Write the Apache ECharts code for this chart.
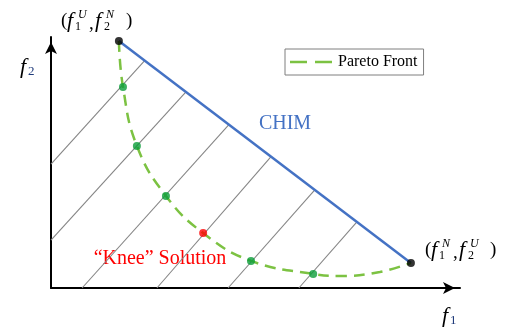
<!DOCTYPE html>
<html><head><meta charset="utf-8">
<script src="https://cdn.jsdelivr.net/npm/echarts@6/dist/echarts.min.js"></script>
<style>html,body{margin:0;padding:0;background:#fff}#c{width:506px;height:331px}</style>
</head><body><div id="c"></div>
<script>
// Pareto front (dashed curve)
const paretoX = [16.6, 17.6, 21.0, 28.1, 37.2, 48.9, 64.1, 70.7, 80.4, 88.0];
const paretoY = [98.4, 80.1, 56.6, 36.7, 21.9, 10.8, 5.6, 4.8, 6.4, 10.0];
// anchor points (black) – ends of CHIM
const anchorX = [16.6, 88.0];
const anchorY = [98.4, 10.0];
// solutions (green)
const solX = [17.6, 21.0, 28.1, 48.9, 64.1];
const solY = [80.1, 56.6, 36.7, 10.8, 5.6];
// knee solution (red)
const kneeX = [37.2];
const kneeY = [21.9];
// hatch lines
const hatchStartX = [0, 0, 7.6, 25.9, 43.3, 60.6];
const hatchStartY = [49.4, 19.1, 0, 0, 0, 0];
const hatchEndX = [22.9, 33.0, 43.5, 53.8, 64.5, 74.8];
const hatchEndY = [90.6, 78.1, 65.1, 52.3, 39.1, 26.3];
// labels
const topLabel = ['U', '1', 'N', '2'];
const botLabel = ['N', '1', 'U', '2'];

const serif = '"Liberation Serif", "Times New Roman", serif';
const chart = echarts.init(document.getElementById('c'));

const axisCommon = {
  type: 'value', min: 0, max: 100,
  axisLine: { show: true, onZero: false, symbol: ['none', 'arrow'], symbolSize: [9, 12], symbolOffset: [0, -5],
    lineStyle: { color: '#000', width: 2 } },
  axisTick: { show: false }, axisLabel: { show: false }, splitLine: { show: false }
};

const series = [];
hatchStartX.forEach((x, i) => {
  series.push({
    type: 'line', name: 'h' + i, silent: true, symbol: 'none', z: 1,
    data: [[x, hatchStartY[i]], [hatchEndX[i], hatchEndY[i]]],
    lineStyle: { color: '#858585', width: 1.1 }
  });
});
series.push({
  type: 'line', name: 'CHIM', symbol: 'none', z: 2,
  data: anchorX.map((x, i) => [x, anchorY[i]]),
  lineStyle: { color: '#4472c4', width: 2.5 }
});
series.push({
  type: 'line', name: 'Pareto Front', symbol: 'none', smooth: 0.45, z: 3,
  data: paretoX.map((x, i) => [x, paretoY[i]]),
  lineStyle: { color: '#7cc242', width: 2.5, type: [11, 7] },
  itemStyle: { color: '#7cc242' }
});
series.push({
  type: 'scatter', name: 'sol', symbolSize: 8, z: 4,
  data: solX.map((x, i) => [x, solY[i]]), itemStyle: { color: '#0b9e3a' }
});
series.push({
  type: 'scatter', name: 'knee', symbolSize: 8, z: 4,
  data: kneeX.map((x, i) => [x, kneeY[i]]), itemStyle: { color: '#ff0000' }
});
series.push({
  type: 'scatter', name: 'anchor', symbolSize: 8, z: 4,
  data: anchorX.map((x, i) => [x, anchorY[i]]), itemStyle: { color: '#000' }
});

chart.setOption({
  animation: false,
  grid: { left: 51, top: 37, width: 409, height: 251 },
  xAxis: axisCommon,
  yAxis: axisCommon,
  legend: {
    data: [{ name: 'Pareto Front', icon: 'path://M0,0H17V2.5H0Z M25,0H42V2.5H25Z' }],
    left: 285, top: 49, selectedMode: false,
    padding: [5, 6, 5, 5], borderColor: '#7f7f7f', borderWidth: 1,
    itemWidth: 42, itemHeight: 3,
    textStyle: { fontFamily: serif, fontSize: 16, color: '#000', padding: [0, 0, 0, 1] }
  },
  series: series
});

function mathLabel(x0, y0, parts) {
  const big = '19px ' + serif, it = 'italic 22px ' + serif, sm = 'italic 12px ' + serif, smd = '12px ' + serif;
  const t = (text, x, y, font, fill) => ({ type: 'text', x: x0 + x, y: y0 + y,
    style: { text, font, fill: fill || '#000', align: 'left', verticalAlign: 'middle' } });
  return { type: 'group', children: [
    t('(', 0, 9, big), t('f', 6, 9, it), t(parts[0], 17, 3, sm), t(parts[1], 14, 15, smd),
    t(',', 28, 12, big), t('f', 34, 9, it), t(parts[2], 45, 3, sm), t(parts[3], 43, 15, smd),
    t(')', 65, 9, big)
  ]};
}
const pTop = chart.convertToPixel({ gridIndex: 0 }, [anchorX[0], anchorY[0]]);
const pBot = chart.convertToPixel({ gridIndex: 0 }, [anchorX[1], anchorY[1]]);
const axisName = (x, y, sub) => ({ type: 'group', x, y, children: [
  { type: 'text', x: 0, y: 0, style: { text: 'f', font: 'italic 22px ' + serif, fill: '#000', verticalAlign: 'middle' } },
  { type: 'text', x: 8, y: 5, style: { text: sub, font: '13px ' + serif, fill: '#1f3a7a', verticalAlign: 'middle' } }
]});
chart.setOption({
  graphic: [
    mathLabel(pTop[0] - 58, pTop[1] - 29, topLabel),
    mathLabel(pBot[0] + 14, pBot[1] - 22, botLabel),
    axisName(20, 67, '2'),
    axisName(442, 316, '1'),
    { type: 'text', x: 285, y: 124, style: { text: 'CHIM', font: '20px ' + serif, fill: '#4472c4', align: 'center', verticalAlign: 'middle' } },
    { type: 'text', x: 160, y: 259, style: { text: '\u201cKnee\u201d Solution', font: '20px ' + serif, fill: '#ff0000', align: 'center', verticalAlign: 'middle' } }
  ]
});
</script></body></html>
